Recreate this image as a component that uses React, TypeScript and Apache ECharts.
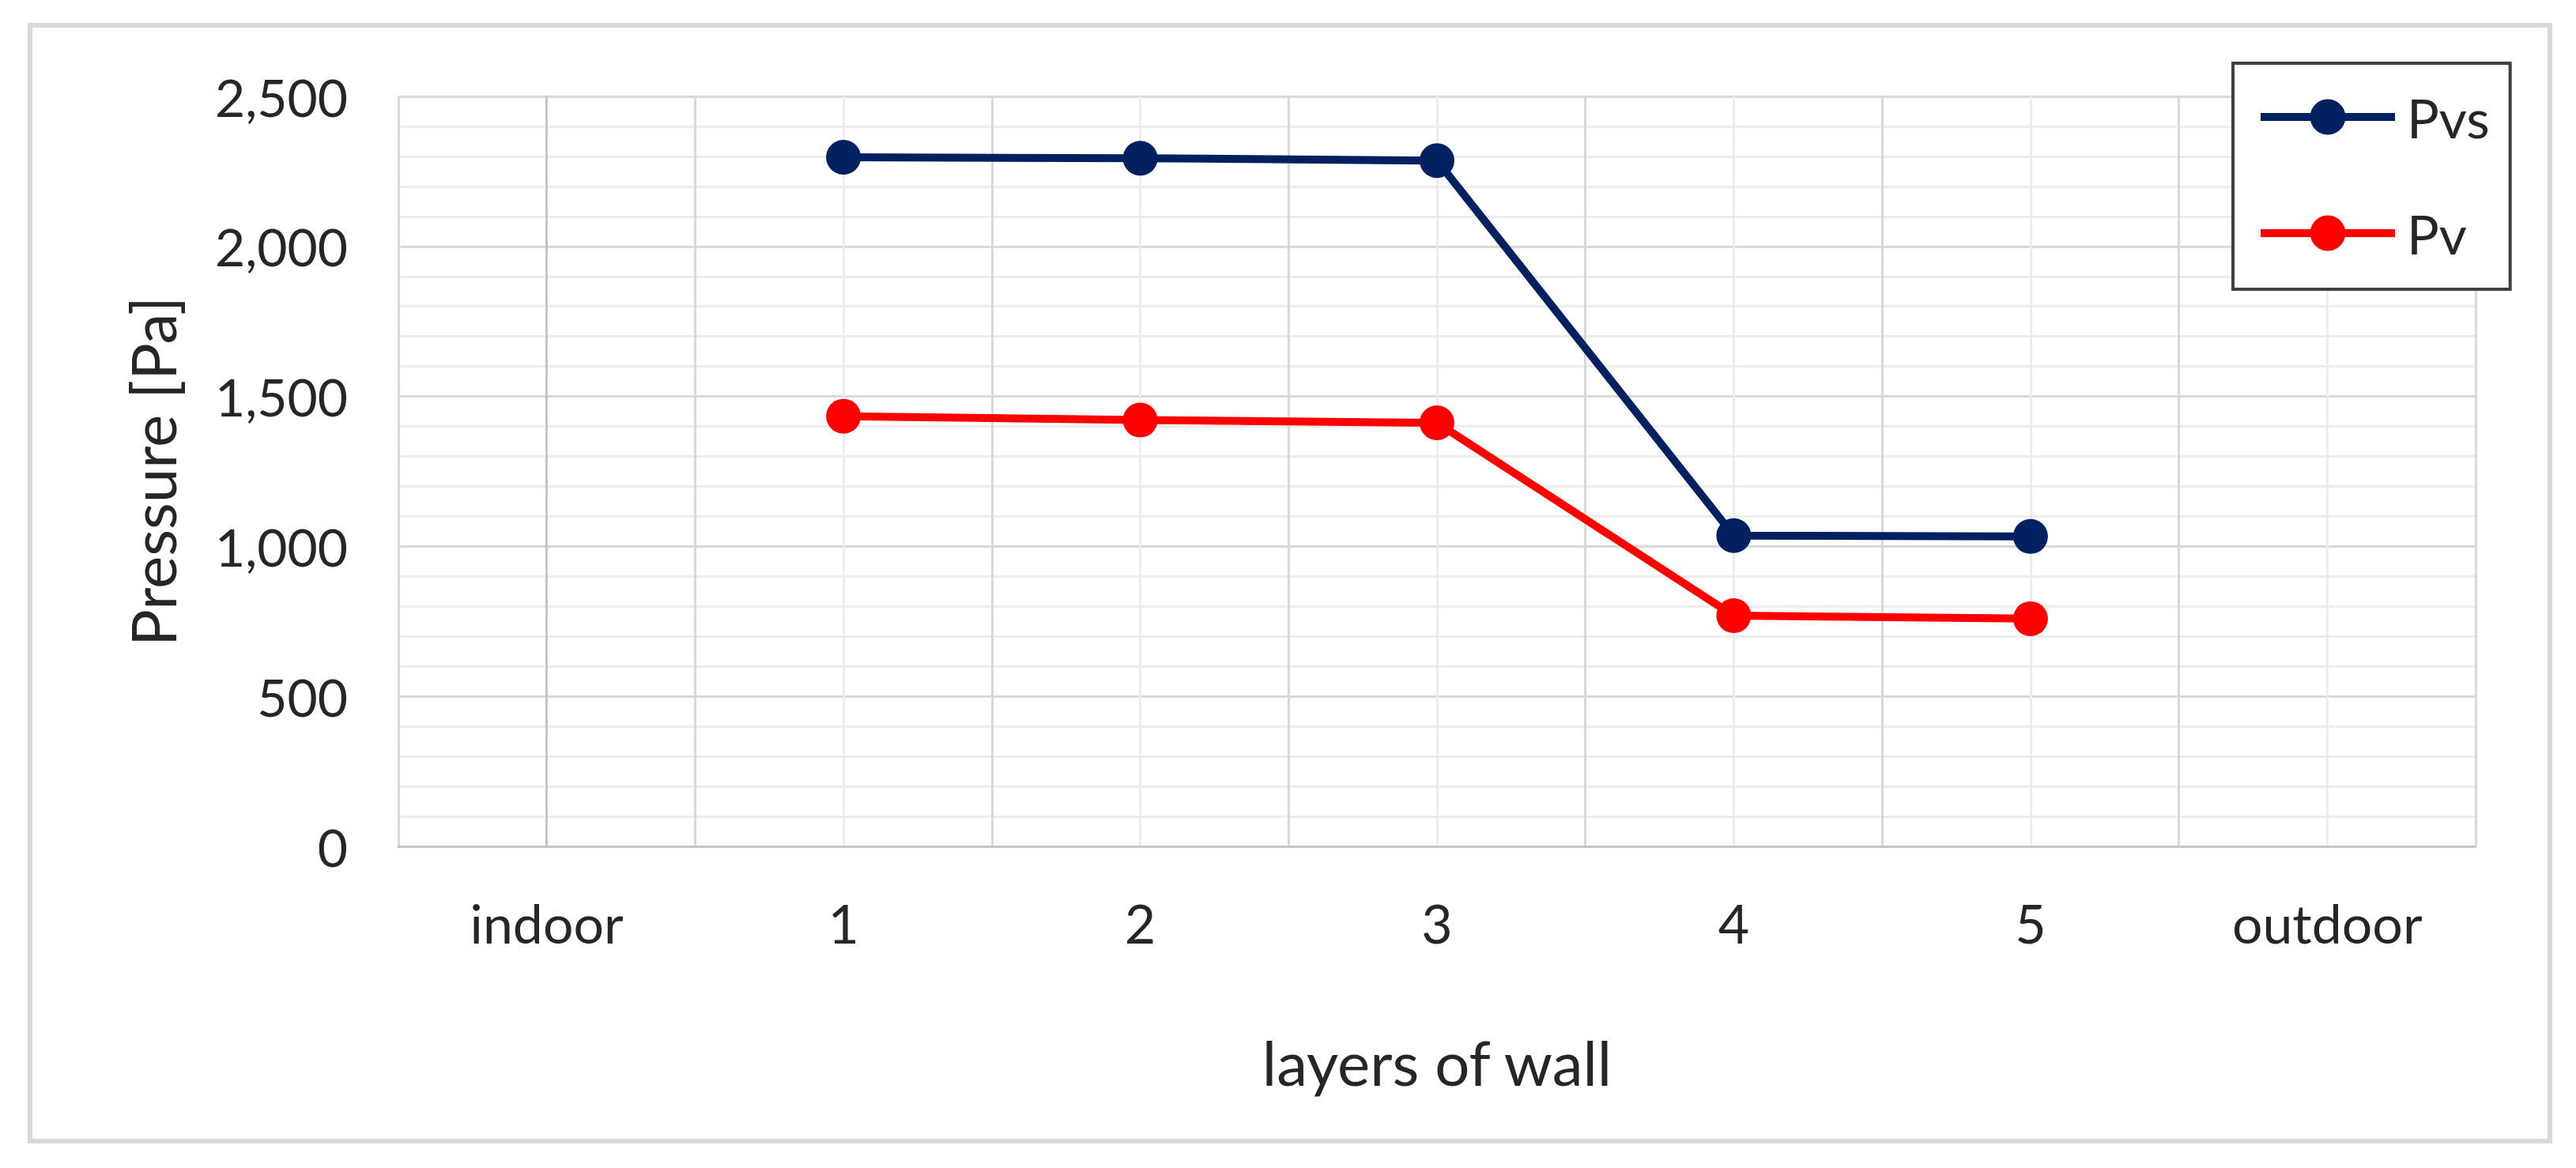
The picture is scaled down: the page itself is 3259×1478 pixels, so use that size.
import React, { useEffect, useRef } from "react";
import * as echarts from "echarts";

const categories = ["indoor", "1", "2", "3", "4", "5", "outdoor"];
const pvsValues = [null, 2297, 2294, 2286, 1036, 1033, null];
const pvValues = [null, 1434, 1421, 1412, 769, 759, null];
const seriesNames = ["Pvs", "Pv"];
const yTicks = { min: 0, max: 2500, interval: 500 };

const FONT = "Lato";
const TEXT = "#262626";

function toPoints(values: (number | null)[]) {
  return values
    .map((v, i) => [i, v])
    .filter((p) => p[1] !== null);
}

export default function App() {
  const ref = useRef<HTMLDivElement>(null);
  useEffect(() => {
    document.body.style.margin = "0";
    const chart = echarts.init(ref.current!, null, { renderer: "svg" });
    chart.setOption({
      animation: false,
      backgroundColor: "#ffffff",
      graphic: [
        {
          type: "rect",
          shape: { x: 38, y: 32, width: 3188, height: 1412 },
          style: { fill: "none", stroke: "#d9d9d9", lineWidth: 6 },
          silent: true,
          z: -1,
        },
      ],
      grid: { left: 504, right: 127, top: 122, bottom: 407, containLabel: false },
      legend: {
        data: seriesNames,
        orient: "vertical",
        left: 2825,
        top: 80,
        itemWidth: 170,
        itemHeight: 56,
        itemGap: 79,
        padding: [34, 26, 37, 30],
        borderColor: "#404040",
        borderWidth: 4,
        backgroundColor: "#ffffff",
        lineStyle: { width: 10 },
        textStyle: {
          fontFamily: FONT,
          fontSize: 68,
          color: TEXT,
          padding: [0, 0, 0, 10],
        },
      },
      xAxis: [
        {
          // category centres + boundaries (light lines) and category labels
          type: "value",
          position: "bottom",
          min: -0.5,
          max: 6.5,
          interval: 0.5,
          name: "layers of wall",
          nameLocation: "middle",
          nameGap: 234,
          nameTextStyle: { fontFamily: FONT, fontSize: 78, color: TEXT },
          axisLine: { show: false },
          axisTick: { show: false },
          axisLabel: {
            margin: 62,
            fontFamily: FONT,
            fontSize: 68,
            color: TEXT,
            formatter: (v: number) => (Number.isInteger(v) ? categories[v] ?? "" : ""),
          },
          splitLine: { show: true, lineStyle: { color: "#ededed", width: 3 } },
        },
        {
          // category boundaries (darker lines)
          type: "value",
          position: "bottom",
          offset: 0,
          min: -0.5,
          max: 6.5,
          interval: 1,
          axisLine: { show: true, lineStyle: { color: "#c6c6c6", width: 3 } },
          axisTick: { show: false },
          axisLabel: { show: false },
          splitLine: { show: true, lineStyle: { color: "#d9d9d9", width: 3 } },
        },
      ],
      yAxis: {
        type: "value",
        min: yTicks.min,
        max: yTicks.max,
        interval: yTicks.interval,
        name: "Pressure [Pa]",
        nameLocation: "middle",
        nameRotate: 90,
        nameGap: 272,
        nameTextStyle: { fontFamily: FONT, fontSize: 78, color: TEXT },
        axisLine: { show: true, lineStyle: { color: "#c6c6c6", width: 3 } },
        axisTick: { show: false },
        axisLabel: {
          margin: 64,
          fontFamily: FONT,
          fontSize: 66,
          color: TEXT,
          formatter: (v: number) => v.toLocaleString("en-US"),
        },
        splitLine: { show: true, lineStyle: { color: "#d9d9d9", width: 3 } },
        minorTick: { show: false, splitNumber: 5 },
        minorSplitLine: { show: true, lineStyle: { color: "#ededed", width: 3 } },
      },
      series: [
        {
          name: seriesNames[0],
          type: "line",
          xAxisIndex: 0,
          data: toPoints(pvsValues),
          symbol: "circle",
          symbolSize: 44,
          itemStyle: { color: "#002060" },
          lineStyle: { color: "#002060", width: 10 },
          z: 3,
        },
        {
          name: seriesNames[1],
          type: "line",
          xAxisIndex: 0,
          data: toPoints(pvValues),
          symbol: "circle",
          symbolSize: 44,
          itemStyle: { color: "#ff0000" },
          lineStyle: { color: "#ff0000", width: 10 },
          z: 3,
        },
      ],
    });
    return () => chart.dispose();
  }, []);
  return (
    <div
      ref={ref}
      style={{ position: "absolute", left: 0, top: 0, width: 3259, height: 1478 }}
    />
  );
}
